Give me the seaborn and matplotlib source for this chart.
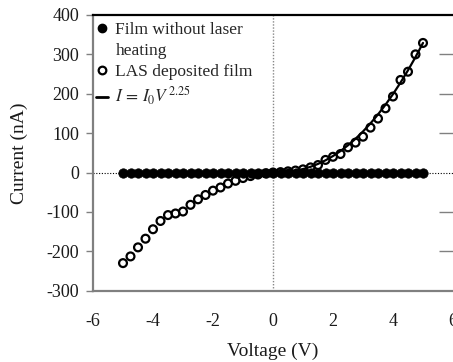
import numpy as np
import pandas as pd
import seaborn as sns
import matplotlib.pyplot as plt
from matplotlib.lines import Line2D

# ---------- data ----------
voltage = [-5.0, -4.75, -4.5, -4.25, -4.0, -3.75, -3.5, -3.25, -3.0, -2.75,
           -2.5, -2.25, -2.0, -1.75, -1.5, -1.25, -1.0, -0.75, -0.5, -0.25,
           0.0, 0.25, 0.5, 0.75, 1.0, 1.25, 1.5, 1.75, 2.0, 2.25,
           2.5, 2.75, 3.0, 3.25, 3.5, 3.75, 4.0, 4.25, 4.5, 4.75, 5.0]

# film without laser heating: flat at ~0 nA
current_plain = [0, 0, 0, 0, 0, 0, 0, 0, 0, 0,
                 0, 0, 0, 0, 0, 0, 0, 0, 0, 0,
                 0, 0, 0, 0, 0, 0, 0, 0, 0, 0,
                 0, 0, 0, 0, 0, 0, 0, 0, 0, 0, 0]

# LAS deposited film
current_las = [-230, -213, -190, -168, -144, -123, -108, -104, -99, -82,
               -68, -57, -46, -38, -28, -21, -14, -9, -5, -2,
               0, 1, 3, 5, 8, 13, 19, 32, 40, 47,
               64, 76, 91, 114, 137, 163, 193, 235, 256, 300, 329]

# fitted power law I = I0 V^2.25
fit_voltage = [0.0, 0.25, 0.5, 0.75, 1.0, 1.25, 1.5, 1.75, 2.0, 2.25, 2.5,
               2.75, 3.0, 3.25, 3.5, 3.75, 4.0, 4.25, 4.5, 4.75, 5.0]
fit_current = [0.0, 0.4, 1.8, 4.6, 8.8, 14.5, 21.9, 31.0, 41.9, 54.6, 69.2,
               85.7, 104.2, 124.8, 147.5, 172.2, 199.1, 228.3, 259.6, 293.1, 329.0]

df = pd.DataFrame({"V": voltage, "plain": current_plain, "las": current_las})
fit = pd.DataFrame({"V": fit_voltage, "I": fit_current})

# ---------- style ----------
sns.set_style("white")
plt.rcParams['font.family'] = ['Liberation Serif', 'DejaVu Serif']
plt.rcParams['mathtext.fontset'] = 'stix'
plt.rcParams['axes.unicode_minus'] = False

fig = plt.figure(figsize=(4.53, 3.62), dpi=100)
ax = fig.add_axes([0.2053, 0.197, 0.7947, 0.7616])

# reference lines through the origin
ax.axhline(0, color="black", lw=0.8, ls=(0, (1, 1.5)), zorder=1)
ax.axvline(0, color="#888888", lw=1.0, ls=(0, (1, 1.2)), zorder=1)

sns.scatterplot(data=df, x="V", y="plain", ax=ax, marker="o", s=46,
                color="black", edgecolor="black", linewidth=0.5, zorder=3)
sns.scatterplot(data=df, x="V", y="las", ax=ax, marker="o", s=32,
                facecolor="none", edgecolor="black", linewidth=1.6, zorder=4)
sns.lineplot(data=fit, x="V", y="I", ax=ax, color="black", lw=1.6, zorder=5)

ax.set_xlim(-6, 6)
ax.set_ylim(-300, 400)
ax.set_xticks([-6, -4, -2, 0, 2, 4, 6])
ax.set_yticks([-300, -200, -100, 0, 100, 200, 300, 400])

ax.set_xlabel("Voltage (V)", fontsize=14, color="#1a1a1a", labelpad=9)
ax.set_ylabel("Current (nA)", fontsize=14, color="#1a1a1a", labelpad=13)

for side in ["left", "bottom"]:
    ax.spines[side].set_color("#808080")
    ax.spines[side].set_linewidth(1.6)
ax.spines["top"].set_color("black")
ax.spines["top"].set_linewidth(1.6)
ax.spines["right"].set_visible(False)

ax.tick_params(axis="both", which="major", direction="out", length=5,
               width=1.0, color="#808080", labelsize=13,
               labelcolor="#1a1a1a", pad=5)
ax.tick_params(axis="x", pad=11)

# inward ticks on the (cropped) right-hand side
ax2 = ax.twinx()
ax2.set_ylim(ax.get_ylim())
ax2.set_yticks([-200, -100, 100, 200, 300])
ax2.tick_params(axis="y", direction="in", length=10, width=1.0,
                color="#808080", labelright=False)
for s in ax2.spines.values():
    s.set_visible(False)

# legend: the first label wraps, so its second line gets an empty handle
handles = [
    Line2D([], [], ls="none", marker="o", ms=6, color="black"),
    Line2D([], [], ls="none", marker=None),
    Line2D([], [], ls="none", marker="o", ms=5.5, mfc="none", mec="black", mew=1.6),
    Line2D([], [], color="black", lw=2),
]
labels = ["Film without laser", "heating", "LAS deposited film",
          r"$I\,=\,I_0V^{\,2.25}$"]
leg = ax.legend(handles, labels, loc="upper left", bbox_to_anchor=(-0.015, 1.006),
                frameon=False, fontsize=12.5, handlelength=0.7, handletextpad=0.4,
                labelspacing=0.28, borderaxespad=0.3, borderpad=0.2)

fig.savefig("out.png", dpi=100)
